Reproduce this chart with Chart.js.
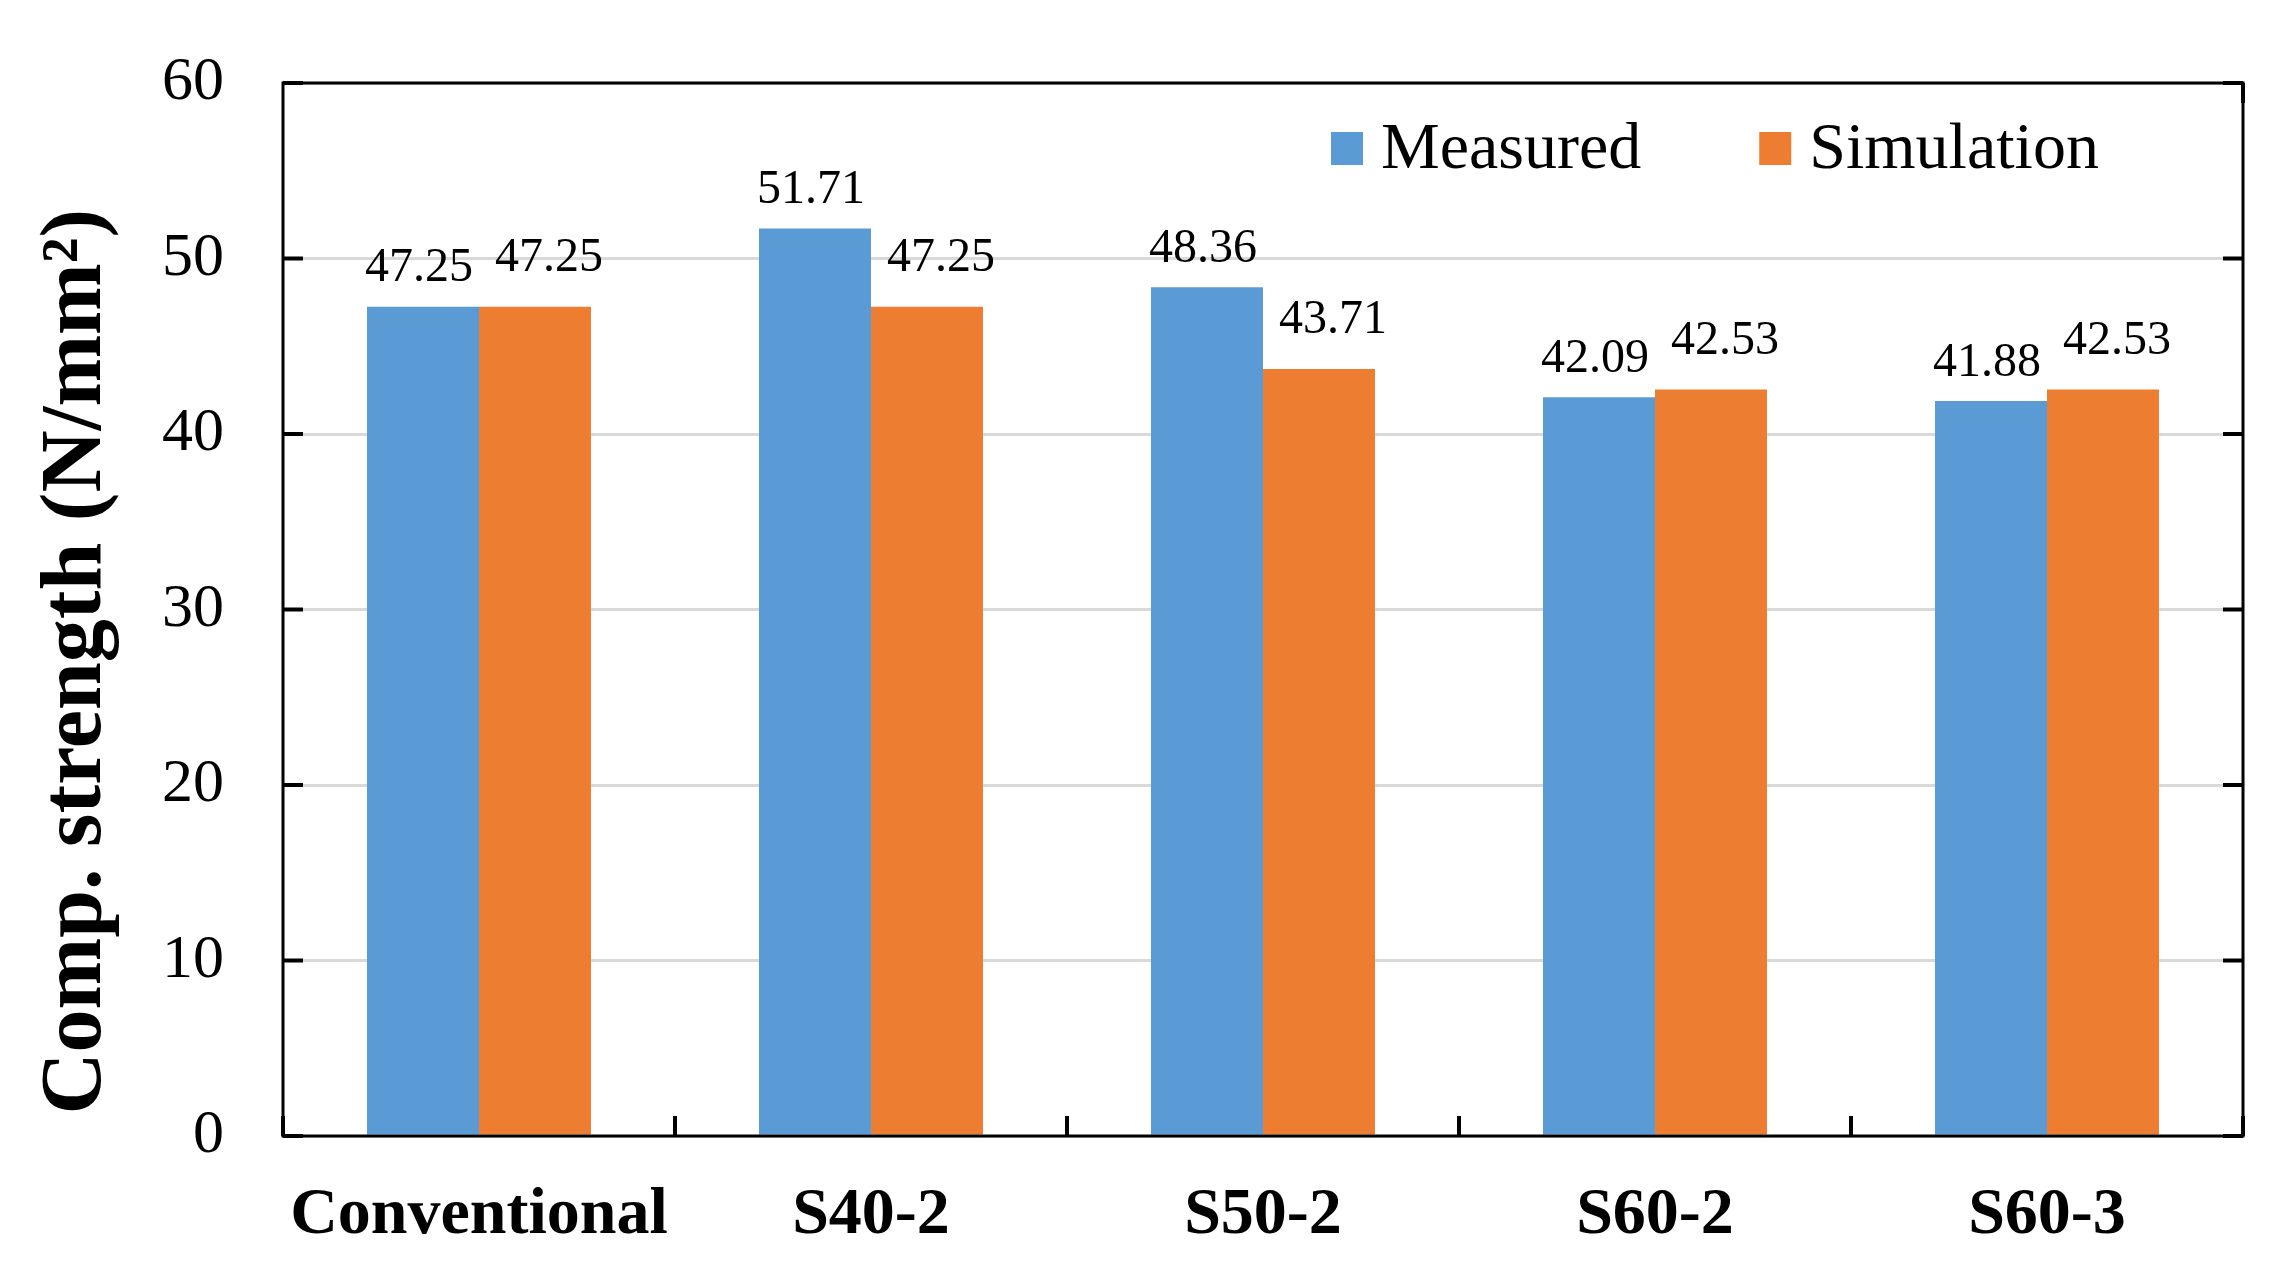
<!DOCTYPE html>
<html>
<head>
<meta charset="utf-8">
<script src="https://cdn.jsdelivr.net/npm/chart.js@4.4.1/dist/chart.umd.min.js"></script>
<style>
  html, body { margin: 0; padding: 0; background: #fff; }
  #wrap { width: 2293px; height: 1287px; }
</style>
</head>
<body>
<div id="wrap"><canvas id="strengthChart" width="2293" height="1287"></canvas></div>
<script>
const categories = ['Conventional', 'S40-2', 'S50-2', 'S60-2', 'S60-3'];
const measured = [47.25, 51.71, 48.36, 42.09, 41.88];
const simulation = [47.25, 47.25, 43.71, 42.53, 42.53];
const seriesNames = ['Measured', 'Simulation'];
const seriesColors = ['#5B9BD5', '#ED7D31'];
const yMin = 0;
const yMax = 60;
const yStep = 10;

const serif = "'Liberation Serif', 'Times New Roman', serif";

// value labels sit a bit off the bars, like in the original
const labelShift = [-4, 14];
const labelLift = [38, 48];

const framePlugin = {
  id: 'frame',
  afterDraw(chart) {
    const { ctx, chartArea: a, scales: { x, y } } = chart;
    ctx.save();

    // box round the plot
    ctx.strokeStyle = '#000';
    ctx.lineWidth = 3;
    ctx.strokeRect(a.left, a.top, a.right - a.left, a.bottom - a.top);

    // inward tick marks
    ctx.lineWidth = 4;
    ctx.beginPath();
    y.ticks.forEach(t => {
      const py = y.getPixelForValue(t.value);
      ctx.moveTo(a.left, py);
      ctx.lineTo(a.left + 20, py);
      ctx.moveTo(a.right, py);
      ctx.lineTo(a.right - 20, py);
    });
    for (let i = 0; i <= categories.length; i++) {
      const px = x.getPixelForValue(i - 0.5);
      ctx.moveTo(px, a.bottom);
      ctx.lineTo(px, a.bottom - 20);
    }
    ctx.moveTo(a.right, a.top);
    ctx.lineTo(a.right, a.top + 20);
    ctx.stroke();

    // value labels
    ctx.fillStyle = '#000';
    ctx.font = '48px ' + serif;
    ctx.textAlign = 'center';
    ctx.textBaseline = 'middle';
    chart.data.datasets.forEach((ds, di) => {
      const meta = chart.getDatasetMeta(di);
      meta.data.forEach((bar, i) => {
        ctx.fillText(ds.data[i].toFixed(2), bar.x + labelShift[di], bar.y - labelLift[di]);
      });
    });

    // legend inside the plot, top right
    ctx.font = '66px ' + serif;
    ctx.textAlign = 'left';
    ctx.textBaseline = 'alphabetic';
    let lx = a.left + 1048;
    const boxTop = a.top + 49;
    const textBase = a.top + 85;
    chart.data.datasets.forEach(ds => {
      ctx.fillStyle = ds.backgroundColor;
      ctx.fillRect(lx, boxTop, 32, 33);
      ctx.fillStyle = '#000';
      ctx.fillText(ds.label, lx + 50, textBase);
      lx += 50 + ctx.measureText(ds.label).width + 118;
    });

    ctx.restore();
  }
};

const ctx = document.getElementById('strengthChart').getContext('2d');
new Chart(ctx, {
  type: 'bar',
  data: {
    labels: categories,
    datasets: [
      { label: seriesNames[0], data: measured, backgroundColor: seriesColors[0] },
      { label: seriesNames[1], data: simulation, backgroundColor: seriesColors[1] },
    ],
  },
  options: {
    responsive: false,
    animation: false,
    devicePixelRatio: 1,
    layout: { padding: { top: 83, right: 50, bottom: 0, left: 0 } },
    datasets: {
      bar: { categoryPercentage: 0.5714, barPercentage: 1.0, borderWidth: 0 },
    },
    plugins: {
      legend: { display: false },
      tooltip: { enabled: false },
    },
    scales: {
      x: {
        type: 'category',
        afterFit: s => { s.height = 151; },
        grid: { display: false, drawTicks: false },
        border: { display: false },
        ticks: {
          color: '#000',
          padding: 47,
          maxRotation: 0,
          font: { family: serif, size: 66, weight: 'bold', lineHeight: 1 },
        },
      },
      y: {
        min: yMin,
        max: yMax,
        afterFit: s => { s.width = 283; s.paddingTop = 31; },
        grid: { color: '#d9d9d9', lineWidth: 3, drawTicks: false },
        border: { display: false },
        ticks: {
          stepSize: yStep,
          color: '#000',
          padding: 59,
          font: { family: serif, size: 62, lineHeight: 1 },
        },
        title: {
          display: true,
          text: ' Comp. strength (N/mm\u00B2)',
          align: 'start',
          color: '#000',
          padding: { top: 35, bottom: 0 },
          font: { family: serif, size: 86, weight: 'bold', lineHeight: 1 },
        },
      },
    },
  },
  plugins: [framePlugin],
});
</script>
</body>
</html>
